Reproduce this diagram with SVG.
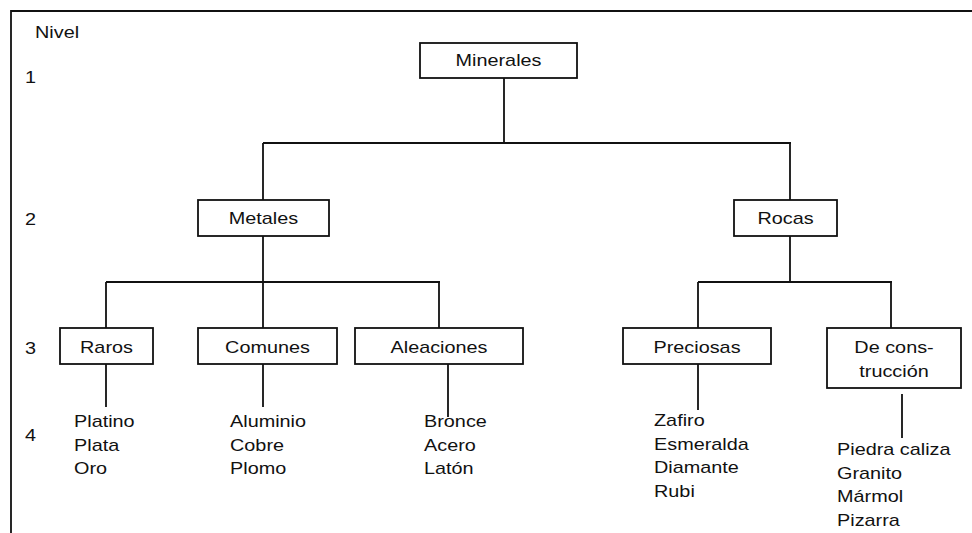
<svg xmlns="http://www.w3.org/2000/svg" width="972" height="533" viewBox="0 0 972 533">
  <style>
    .box { fill: #fff; stroke: #111; stroke-width: 1.8; }
    .ln { stroke: #111; stroke-width: 1.8; fill: none; }
    text { font-family: "Liberation Sans", Arial, sans-serif; font-size: 16px; fill: #111; }
    .c { text-anchor: middle; }
  </style>
  <rect width="972" height="533" fill="#fff"/>
  <!-- frame -->
  <path class="ln" d="M11 533 V11 H972" stroke-width="2"/>

  <!-- level labels -->
  <g id="levels">
    <text transform="translate(35 38) scale(1.24 1)">Nivel</text>
    <text transform="translate(25 83) scale(1.24 1)">1</text>
    <text transform="translate(25 225) scale(1.24 1)">2</text>
    <text transform="translate(25 354) scale(1.24 1)">3</text>
    <text transform="translate(25 441) scale(1.24 1)">4</text>
  </g>

  <!-- connectors -->
  <g id="connectors">
    <path class="ln" d="M504 78 V143 M263 143 H791 M263 143 V200 M790 143 V200"/>
    <path class="ln" d="M263 236 V282 M106 282 H440 M106 282 V328 M263 282 V328 M439 282 V328"/>
    <path class="ln" d="M790 236 V282 M698 282 H892 M698 282 V328 M891 282 V328"/>
    <path class="ln" d="M106 364 V407 M263 364 V407 M448 364 V417 M698 364 V410 M902 394 V438"/>
  </g>

  <g id="minerales">
    <rect class="box" x="420" y="43" width="157" height="35"/>
    <text class="c" transform="translate(498.5 66) scale(1.24 1)">Minerales</text>
  </g>
  <g id="metales">
    <rect class="box" x="198" y="200" width="131" height="36"/>
    <text class="c" transform="translate(263.5 224) scale(1.24 1)">Metales</text>
  </g>
  <g id="rocas">
    <rect class="box" x="734" y="200" width="103" height="36"/>
    <text class="c" transform="translate(785.5 224) scale(1.24 1)">Rocas</text>
  </g>
  <g id="raros">
    <rect class="box" x="60" y="328" width="93" height="36"/>
    <text class="c" transform="translate(106.5 353) scale(1.24 1)">Raros</text>
  </g>
  <g id="comunes">
    <rect class="box" x="198" y="328" width="139" height="36"/>
    <text class="c" transform="translate(267.5 353) scale(1.24 1)">Comunes</text>
  </g>
  <g id="aleaciones">
    <rect class="box" x="355" y="328" width="168" height="36"/>
    <text class="c" transform="translate(439 353) scale(1.24 1)">Aleaciones</text>
  </g>
  <g id="preciosas">
    <rect class="box" x="623" y="328" width="148" height="36"/>
    <text class="c" transform="translate(697 353) scale(1.24 1)">Preciosas</text>
  </g>
  <g id="construccion">
    <rect class="box" x="827" y="328" width="134" height="60"/>
    <text class="c" transform="translate(894 353) scale(1.24 1)">De cons-</text>
    <text class="c" transform="translate(894 377) scale(1.24 1)">trucción</text>
  </g>

  <!-- level 4 lists -->
  <g id="list-raros">
    <text transform="translate(74 427) scale(1.24 1)">Platino</text>
    <text transform="translate(74 450.5) scale(1.24 1)">Plata</text>
    <text transform="translate(74 474) scale(1.24 1)">Oro</text>
  </g>
  <g id="list-comunes">
    <text transform="translate(230 427) scale(1.24 1)">Aluminio</text>
    <text transform="translate(230 450.5) scale(1.24 1)">Cobre</text>
    <text transform="translate(230 474) scale(1.24 1)">Plomo</text>
  </g>
  <g id="list-aleaciones">
    <text transform="translate(424 427) scale(1.24 1)">Bronce</text>
    <text transform="translate(424 450.5) scale(1.24 1)">Acero</text>
    <text transform="translate(424 474) scale(1.24 1)">Latón</text>
  </g>
  <g id="list-preciosas">
    <text transform="translate(654 426) scale(1.24 1)">Zafiro</text>
    <text transform="translate(654 449.5) scale(1.24 1)">Esmeralda</text>
    <text transform="translate(654 473) scale(1.24 1)">Diamante</text>
    <text transform="translate(654 496.5) scale(1.24 1)">Rubi</text>
  </g>
  <g id="list-construccion">
    <text transform="translate(837 455) scale(1.24 1)">Piedra caliza</text>
    <text transform="translate(837 478.5) scale(1.24 1)">Granito</text>
    <text transform="translate(837 502) scale(1.24 1)">Mármol</text>
    <text transform="translate(837 525.5) scale(1.24 1)">Pizarra</text>
  </g>
</svg>
